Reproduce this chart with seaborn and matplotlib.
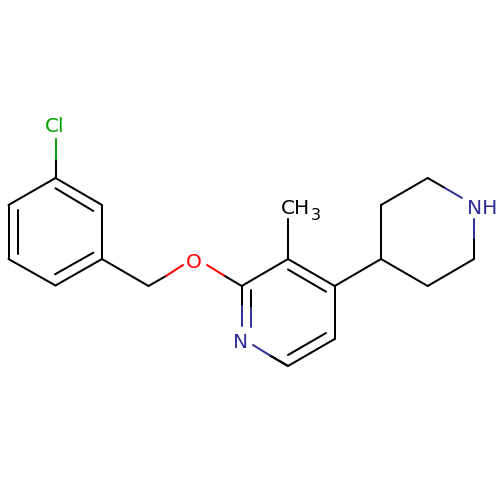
import pandas as pd
import matplotlib
matplotlib.use('Agg')
import matplotlib.pyplot as plt
import seaborn as sns

# bond segments in picture pixels: start x, start y, end x, end y, element colour
x_start = [55.5, 102, 102, 55.5, 8.5, 8.5,
           55.5, 18.3, 55,
           55.5, 55.5,
           102, 148.5, 166,
           207, 224,
           241.7, 241.7, 251, 251,
           241.7, 288, 334.7, 334.7, 288,
           288, 326,
           288,
           253, 270,
           334.7, 381, 381, 427.7, 445, 474, 474, 474, 427.7]
y_start = [178, 205, 259, 285.5, 259, 205,
           188.3, 210, 274.3,
           178, 159,
           259, 286, 276,
           265, 275.5,
           286, 306, 290, 308,
           286, 259, 286, 339, 366,
           269.5, 333,
           259,
           345, 355.5,
           286, 259, 205, 178, 188, 259, 238, 259, 286]
x_end = [102, 102, 55.5, 8.5, 8.5, 55.5,
         93.3, 18.3, 93.3,
         55.5, 55.5,
         148.5, 166, 183,
         224, 241.7,
         241.7, 241.7, 251, 251,
         288, 334.7, 334.7, 288, 270,
         326, 288,
         288,
         270, 288,
         381, 381, 427.7, 445, 462, 474, 474, 427.7, 381]
y_end = [205, 259, 285.5, 259, 205, 178,
         211, 254, 252.7,
         159, 139,
         286, 276, 265,
         275.5, 286,
         306, 326, 308, 327,
         259, 286, 339, 366, 355.5,
         291.7, 355,
         219,
         355.5, 366,
         259, 205, 178, 188, 198, 238, 219, 286, 259]
bond_color = ['black', 'black', 'black', 'black', 'black', 'black',
              'black', 'black', 'black',
              'black', 'green',
              'black', 'black', 'red',
              'red', 'black',
              'black', 'navy', 'black', 'navy',
              'black', 'black', 'black', 'black', 'black',
              'black', 'black',
              'black',
              'navy', 'black',
              'black', 'black', 'black', 'black', 'navy', 'black', 'navy', 'black', 'black']

palette = {'black': '#000000', 'green': '#11A511', 'red': '#FF0000', 'navy': '#33339A'}

# atom labels
label_text = ['Cl', 'O', 'N', 'NH']
label_x = [55, 194, 241, 482]
label_y = [126.5, 263, 343, 208.5]
label_color = ['#00A000', '#FF0000', '#2F2F99', '#2F2F99']

rows = []
for i in range(len(x_start)):
    rows.append({'bond': i, 'x': x_start[i], 'y': y_start[i], 'color': bond_color[i]})
    rows.append({'bond': i, 'x': x_end[i], 'y': y_end[i], 'color': bond_color[i]})
df = pd.DataFrame(rows)

fig, ax = plt.subplots(figsize=(5, 5), dpi=100)
fig.subplots_adjust(left=0, right=1, bottom=0, top=1)

sns.lineplot(data=df, x='x', y='y', hue='color', units='bond', estimator=None, sort=False,
             palette=palette, legend=False, linewidth=1.45, ax=ax, solid_capstyle='round')

for t, lx, ly, c in zip(label_text, label_x, label_y, label_color):
    ax.text(lx, ly, t, color=c, fontsize=14.5, ha='center', va='center')

# methyl label with the small subscript
ax.text(281, 208, 'CH', color='black', fontsize=14.5, ha='left', va='center')
ax.text(311, 216, '3', color='black', fontsize=11.5, ha='left', va='center')

ax.set_xlim(0, 500)
ax.set_ylim(500, 0)
ax.axis('off')

plt.savefig('out.png', dpi=100)
